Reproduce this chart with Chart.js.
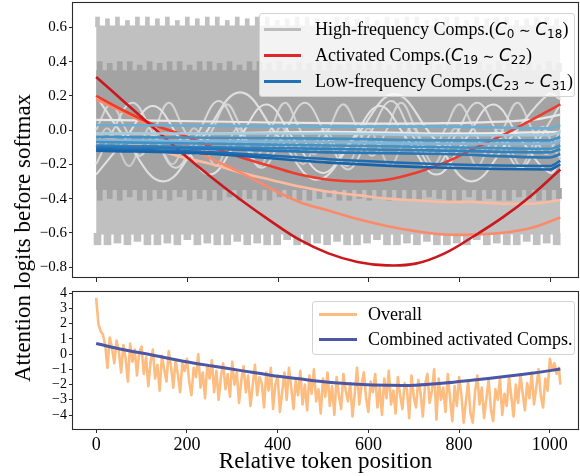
<!DOCTYPE html>
<html>
<head>
<meta charset="utf-8">
<script src="https://cdn.jsdelivr.net/npm/chart.js@4.4.1/dist/chart.umd.min.js"></script>
<style>
    html, body { margin: 0; padding: 0; background: #fff; }
    #figure { position: relative; width: 580px; height: 476px; overflow: hidden; font-family: 'Liberation Serif', 'Times New Roman', serif; color: #000; }
    #topBox { position: absolute; left: 0; top: 0; width: 580px; height: 292px; }
    #bottomBox { position: absolute; left: 0; top: 285px; width: 580px; height: 191px; }
    .y-title { position: absolute; left: 23px; top: 238px; transform: translate(-50%, -50%) rotate(-90deg); font-size: 23px; white-space: nowrap; }
    .legend { position: absolute; box-sizing: border-box; background: rgba(255, 255, 255, 0.8); border: 1px solid #d3d3d3; border-radius: 3px; }
    .legend .row { position: absolute; left: 0; right: 0; height: 24px; }
    .legend .swatch { position: absolute; top: 10.5px; height: 3px; }
    .legend .label { position: absolute; top: 0; line-height: 24px; white-space: nowrap; font-size: 18px; }
    .legend .math { font-family: 'DejaVu Sans', sans-serif; font-style: italic; font-size: 17px; }
    .legend .sub { font-family: 'DejaVu Sans', sans-serif; font-size: 12px; vertical-align: -3px; }
    .legend .sim { font-family: 'DejaVu Sans', sans-serif; font-size: 14px; }
</style>
</head>
<body>
<div id="figure">
    <div id="topBox"><canvas id="componentsChart"></canvas></div>
    <div id="bottomBox"><canvas id="overallChart"></canvas></div>
    <div class="y-title">Attention logits before softmax</div>
    <div class="legend" id="componentsLegend" style="left:259px;top:13px;width:316px;height:84px"></div>
    <div class="legend" id="overallLegend" style="left:312px;top:301px;width:263px;height:54px"></div>
</div>
<script>
// axes
const xTickValues = [0, 200, 400, 600, 800, 1000];
const xTickLabels = ['0', '200', '400', '600', '800', '1000'];
const topYTickValues = [-0.8, -0.6, -0.4, -0.2, 0, 0.2, 0.4, 0.6];
const topYTickLabels = ['\u22120.8', '\u22120.6', '\u22120.4', '\u22120.2', '0.0', '0.2', '0.4', '0.6'];
const bottomYTickValues = [-4, -3, -2, -1, 0, 1, 2, 3, 4];
const bottomYTickLabels = ['\u22124', '\u22123', '\u22122', '\u22121', '0', '1', '2', '3', '4'];

// high-frequency comps: fast oscillations seen as two solid bands with ragged edges
const bandEnds = [0, 1023];
const lightCore = [0.61, -0.61];
const darkCore = [0.35, -0.35];
const toothStep = 22;
const lightTopTeeth = [
    0.66, 0.65, 0.66, 0.64, 0.66, 0.66, 0.65, 0.66, 0.64, 0.66,
    0.65, 0.66, 0.66, 0.64, 0.66, 0.65, 0.66, 0.66, 0.64, 0.65,
    0.66, 0.66, 0.65, 0.64, 0.66, 0.66, 0.65, 0.66, 0.64, 0.66,
    0.65, 0.66, 0.66, 0.64, 0.65, 0.66, 0.66, 0.64, 0.66, 0.65,
    0.66, 0.66, 0.64, 0.65, 0.66, 0.66, 0.65
];
const lightBottomTeeth = [
    -0.67, -0.67, -0.66, -0.67, -0.65, -0.67, -0.67, -0.66, -0.67, -0.64,
    -0.67, -0.66, -0.67, -0.67, -0.65, -0.67, -0.66, -0.67, -0.67, -0.64,
    -0.67, -0.67, -0.66, -0.67, -0.65, -0.67, -0.67, -0.66, -0.64, -0.67,
    -0.67, -0.66, -0.67, -0.65, -0.67, -0.67, -0.66, -0.67, -0.64, -0.67,
    -0.66, -0.67, -0.67, -0.65, -0.67, -0.66, -0.67
];
const darkTopTeeth = [
    0.40, 0.39, 0.40, 0.40, 0.38, 0.40, 0.39, 0.40, 0.40, 0.38,
    0.40, 0.40, 0.39, 0.40, 0.38, 0.40, 0.40, 0.39, 0.40, 0.38,
    0.40, 0.39, 0.40, 0.40, 0.38, 0.40, 0.39, 0.40, 0.40, 0.38,
    0.40, 0.40, 0.39, 0.40, 0.38, 0.40, 0.39, 0.40, 0.40, 0.38,
    0.40, 0.40, 0.39, 0.40, 0.38, 0.40, 0.39
];
const darkBottomTeeth = [
    -0.41, -0.40, -0.41, -0.39, -0.41, -0.41, -0.40, -0.41, -0.39, -0.41,
    -0.40, -0.41, -0.41, -0.39, -0.41, -0.40, -0.41, -0.41, -0.39, -0.40,
    -0.41, -0.41, -0.40, -0.39, -0.41, -0.41, -0.40, -0.41, -0.39, -0.41,
    -0.40, -0.41, -0.41, -0.39, -0.40, -0.41, -0.41, -0.39, -0.41, -0.40,
    -0.41, -0.41, -0.39, -0.40, -0.41, -0.41, -0.40
];

// slower high-frequency comps (pale curves)
const paleAX = [0, 62, 147, 232, 317, 402, 487, 572, 657, 742, 827, 912, 997, 1023];
const paleAY = [0.20, -0.04, -0.30, -0.05, 0.22, -0.04, -0.29, -0.04, 0.21, -0.04, -0.30, -0.05, 0.21, 0.18];
const paleBX = [0, 32, 80, 127, 175, 222, 270, 317, 365, 412, 460, 507, 555, 602, 650, 697, 745, 792, 840, 887, 935, 982, 1023];
const paleBY = [-0.20, -0.03, 0.16, -0.03, -0.22, -0.03, 0.17, -0.03, -0.22, -0.03, 0.16, -0.03, -0.23, -0.03, 0.17, -0.03, -0.22, -0.03, 0.16, -0.03, -0.22, -0.03, 0.15];
const paleCX = [0, 32, 64, 96, 128, 160, 192, 224, 256, 288, 320, 352, 384, 416, 448, 480, 512, 544, 576, 608, 640, 672, 704, 736, 768, 800, 832, 864, 896, 928, 960, 992, 1023];
const paleCY = [0.00, 0.15, 0.01, -0.15, 0.00, 0.16, 0.01, -0.14, 0.00, 0.15, 0.01, -0.15, 0.00, 0.16, 0.01, -0.14, 0.00, 0.15, 0.01, -0.15, 0.00, 0.16, 0.01, -0.14, 0.00, 0.15, 0.01, -0.15, 0.00, 0.16, 0.01, -0.14, 0.00];
const paleDX = [0, 62, 125, 187, 250, 312, 375, 437, 500, 562, 625, 687, 750, 812, 875, 937, 1000, 1023];
const paleDY = [-0.26, -0.06, 0.14, -0.06, -0.26, -0.06, 0.15, -0.06, -0.25, -0.06, 0.14, -0.06, -0.26, -0.06, 0.15, -0.06, -0.25, -0.18];
const paleEX = [0, 256, 512, 768, 960, 1023];
const paleEY = [0.06, 0.05, 0.04, 0.04, 0.06, 0.09];
const paleFX = [0, 256, 512, 768, 1023];
const paleFY = [-0.02, -0.02, -0.01, -0.02, -0.01];
const paleGX = [0, 24, 48, 72, 96, 120, 144, 168, 192, 216, 240, 264, 288, 312, 336, 360, 384, 408, 432, 456, 480, 504, 528, 552, 576, 600, 624, 648, 672, 696, 720, 744, 768, 792, 816, 840, 864, 888, 912, 936, 960, 984, 1008, 1023];
const paleGY = [
    -0.10, 0.01, -0.10, -0.21, -0.10, 0.02, -0.10, -0.20, -0.10, 0.01, -0.10, -0.21,
    -0.10, 0.01, -0.10, -0.21, -0.10, 0.02, -0.10, -0.20, -0.10, 0.01, -0.10, -0.21,
    -0.10, 0.01, -0.10, -0.21, -0.10, 0.02, -0.10, -0.20, -0.10, 0.01, -0.10, -0.21,
    -0.10, 0.01, -0.10, -0.21, -0.10, 0.02, -0.10, -0.17
];

// activated comps C19..C22
const activatedX = [0, 64, 128, 192, 256, 320, 384, 448, 512, 576, 640, 704, 768, 832, 896, 960, 1023];
const activated19 = [0.31, 0.16, 0.01, -0.14, -0.28, -0.41, -0.53, -0.64, -0.72, -0.77, -0.79, -0.78, -0.72, -0.62, -0.51, -0.38, -0.23];
const activated20 = [0.20, 0.11, 0.03, -0.03, -0.10, -0.16, -0.21, -0.26, -0.29, -0.30, -0.29, -0.25, -0.19, -0.11, -0.03, 0.06, 0.15];
const activated21 = [0.18, 0.10, 0.01, -0.08, -0.17, -0.25, -0.34, -0.42, -0.47, -0.52, -0.56, -0.59, -0.61, -0.61, -0.60, -0.57, -0.51];
const activated22 = [-0.03, -0.07, -0.11, -0.16, -0.20, -0.25, -0.29, -0.33, -0.36, -0.38, -0.40, -0.41, -0.42, -0.42, -0.43, -0.43, -0.41];

// low-frequency comps C23..C31
const lowX = [0, 256, 512, 768, 1000, 1023];
const lowComps = [
    [0.03, 0.025, 0.02, 0.02, 0.01, 0.03],
    [-0.02, -0.02, -0.02, -0.03, -0.03, -0.01],
    [-0.04, -0.045, -0.05, -0.06, -0.06, -0.04],
    [-0.06, -0.065, -0.07, -0.08, -0.08, -0.06],
    [-0.07, -0.08, -0.09, -0.10, -0.11, -0.09],
    [-0.09, -0.10, -0.11, -0.12, -0.13, -0.11],
    [-0.10, -0.11, -0.13, -0.14, -0.16, -0.14],
    [-0.11, -0.13, -0.17, -0.20, -0.21, -0.18],
    [-0.12, -0.14, -0.19, -0.22, -0.23, -0.20]
];

// bottom panel: overall logits every 5 tokens (last point at 1023) and combined activated comps
const overallStep = 5;
const overall = [
    3.7, 2.0, 1.5, 1.3, 0.6, -0.9, 1.1, 0.4, -0.6, 0.9, 0.2, -1.2, 0.6, -0.3, -1.8, 0.7, -0.5, 0.3, -1.4, 0.1,
    0.5, -1.3, -0.2, -2.1, -0.5, 0.3, -1.6, -0.7, -2.4, -0.1, -1.0, -1.8, 0.2, -0.8, -2.2, -0.4, -1.3, -2.5, -0.6, -1.1,
    -0.3, -1.8, -2.7, -0.9, -1.5, 0.0, -2.2, -1.2, -2.9, -0.7, -1.6, -0.4, -2.5, -1.1, -3.0, -1.5, -0.6, -2.3, -1.3, -2.8,
    -0.5, -2.0, -1.2, -3.2, -1.7, -0.8, -2.5, -1.4, -3.4, -2.1, -0.7, -2.7, -1.5, -1.9, -3.5, -1.2, -2.4, -0.9, -3.6, -2.0,
    -1.4, -3.8, -2.5, -1.2, -3.0, -0.9, -2.2, -3.6, -1.7, -2.7, -1.1, -3.3, -2.0, -3.7, -1.4, -2.6, -1.0, -3.1, -2.3, -3.9,
    -1.6, -2.8, -1.2, -3.4, -2.1, -4.0, -1.5, -2.7, -3.6, -1.3, -2.4, -3.1, -1.9, -4.1, -2.6, -0.9, -3.3, -2.0, -1.2, -2.9,
    -3.8, -1.8, -2.5, -1.3, -3.5, -2.2, -4.0, -1.6, -2.9, -1.1, -3.3, -2.4, -3.9, -1.5, -2.7, -3.6, -1.9, -2.3, -4.2, -1.4,
    -2.8, -3.5, -1.7, -2.6, -4.1, -2.0, -1.3, -3.2, -2.4, -1.0, -4.3, -1.6, -3.0, -2.2, -3.8, -1.3, -2.9, -4.4, -2.1, -3.4,
    -1.5, -2.7, -4.5, -3.1, -1.8, -3.9, -4.5, -2.5, -1.4, -3.3, -2.2, -4.2, -2.9, -1.7, -3.6, -4.4, -2.3, -3.0, -1.6, -4.0,
    -2.6, -3.4, -1.5, -2.8, -4.1, -2.0, -3.2, -1.3, -2.6, -3.7, -1.9, -2.9, -1.2, -3.3, -2.2, -1.0, -2.7, -3.5, -1.6, -2.4,
    -0.3, -1.0, -0.6, -1.3, -0.9, -2.0
];
const combinedX = [0, 64, 128, 192, 256, 320, 384, 448, 512, 576, 640, 704, 768, 832, 896, 960, 1023];
const combined = [0.70, 0.28, -0.08, -0.46, -0.78, -1.08, -1.38, -1.62, -1.84, -1.97, -2.04, -2.04, -1.90, -1.70, -1.49, -1.25, -0.98];

// legends
const componentLegendNames = ['High-frequency Comps.', 'Activated Comps.', 'Low-frequency Comps.'];
const componentLegendRanges = [['0', '18'], ['19', '22'], ['23', '31']];
const componentLegendColors = ['#bdbdbd', '#e0282a', '#2171b5'];
const overallLegendNames = ['Overall', 'Combined activated Comps.'];
const overallLegendColors = ['#fdbc80', '#4c56a6'];

const activatedColors = ['#cb181d', '#ef3b2c', '#fc8a6a', '#fcbba1'];
const lowColors = ['#6baed6', '#9ecae1', '#4292c6', '#7db8dc', '#4292c6', '#3182bd', '#2878b8', '#1f6db1', '#1764ab'];
const paleColors = ['#cbcbcb', '#d2d2d2', '#d8d8d8', '#dedede', '#e2e2e2', '#e8e8e8', '#ececec'];

Chart.defaults.font.family = "'Liberation Serif', 'Times New Roman', serif";
Chart.defaults.color = '#000';

// full box around the plot area; the upper panel also gets its x tick marks (labels live below)
const framePlugin = {
    id: 'frame',
    afterDraw(chart) {
        const { ctx, chartArea: a } = chart;
        ctx.save();
        ctx.strokeStyle = '#2b2b2b';
        ctx.lineWidth = 1.1;
        ctx.strokeRect(Math.round(a.left) - 0.5, Math.round(a.top) - 0.5, Math.round(a.right - a.left) + 1, Math.round(a.bottom - a.top) + 1);
        if (chart.canvas.id === 'componentsChart') {
            const xScale = chart.scales.x;
            ctx.fillStyle = '#2b2b2b';
            xTickValues.forEach((value) => {
                ctx.fillRect(Math.round(xScale.getPixelForValue(value)), Math.round(a.bottom), 1, 5);
            });
        }
        ctx.restore();
    }
};

class AttentionLogitsFigure {
    constructor() {
        this.charts = { components: null, overall: null };
        this.init();
    }

    init() {
        this.renderComponents();
        this.renderOverall();
        this.renderLegends();
    }

    points(xs, ys) {
        return xs.map((x, i) => ({ x, y: ys[i] }));
    }

    curve(xs, ys, color, width, extra) {
        return Object.assign({
            type: 'line',
            data: this.points(xs, ys),
            borderColor: color,
            borderWidth: width,
            pointRadius: 0,
            tension: 0.4,
            fill: false,
            borderJoinStyle: 'round'
        }, extra || {});
    }

    teeth(values, offset, base, color, thickness) {
        return {
            type: 'bar',
            data: values.map((v, i) => ({ x: offset + i * toothStep, y: v })),
            base,
            backgroundColor: color,
            barThickness: thickness,
            grouped: false,
            borderWidth: 0
        };
    }

    band(values, color) {
        return [
            { type: 'line', data: this.points(bandEnds, [values[0], values[0]]), borderWidth: 0, pointRadius: 0, fill: '+1', backgroundColor: color },
            { type: 'line', data: this.points(bandEnds, [values[1], values[1]]), borderWidth: 0, pointRadius: 0, fill: false }
        ];
    }

    axis(min, max, tickValues, tickLabels, extra) {
        return Object.assign({
            type: 'linear',
            min,
            max,
            offset: false,
            afterBuildTicks: (scale) => { scale.ticks = tickValues.map((value) => ({ value })); },
            ticks: { autoSkip: false, callback: (v, i) => tickLabels[i] },
            grid: { display: true, offset: false, drawOnChartArea: false, drawTicks: true, tickLength: 4, color: '#2b2b2b', lineWidth: 1 },
            border: { display: false }
        }, extra);
    }

    fitAxis(scale, size) {
        if (scale.isHorizontal()) scale.height = size; else scale.width = size;
        scale.paddingTop = 0; scale.paddingBottom = 0; scale.paddingLeft = 0; scale.paddingRight = 0;
    }

    // datasets are listed bottom to top; chart.js draws the lowest order last
    stack(datasets) {
        return datasets.map((d, i) => Object.assign(d, { order: datasets.length - i }));
    }

    renderComponents() {
        const light = '#c0c0c0';
        const dark = '#a3a3a3';
        const datasets = [
            ...this.band(lightCore, light),
            this.teeth(lightTopTeeth, 3, 0.60, light, 4),
            this.teeth(lightBottomTeeth, 3, -0.60, light, 7),
            ...this.band(darkCore, dark),
            this.teeth(darkTopTeeth, 8, 0.34, dark, 5),
            this.teeth(darkBottomTeeth, 8, -0.34, dark, 5),
            this.curve(paleGX, paleGY, paleColors[0], 2),
            this.curve(paleCX, paleCY, paleColors[1], 2),
            this.curve(paleBX, paleBY, paleColors[2], 2),
            this.curve(paleAX, paleAY, paleColors[3], 2.2),
            this.curve(paleDX, paleDY, paleColors[4], 2),
            this.curve(paleEX, paleEY, paleColors[5], 2.2),
            this.curve(paleFX, paleFY, paleColors[6], 2.2),
            this.curve(activatedX, activated22, activatedColors[3], 2.6),
            this.curve(activatedX, activated21, activatedColors[2], 2.6),
            this.curve(activatedX, activated20, activatedColors[1], 2.6),
            this.curve(activatedX, activated19, activatedColors[0], 2.6),
            ...lowComps.map((ys, i) => this.curve(lowX, ys, lowColors[i], 2.6, { cubicInterpolationMode: 'monotone' }))
        ];

        const ctx = document.getElementById('componentsChart').getContext('2d');
        this.charts.components = new Chart(ctx, {
            type: 'line',
            data: { datasets: this.stack(datasets) },
            options: {
                animation: false,
                responsive: true,
                maintainAspectRatio: false,
                events: [],
                layout: { padding: { top: 3, right: 2, left: 0, bottom: 7 } },
                plugins: { legend: { display: false }, tooltip: { enabled: false } },
                scales: {
                    // shared x axis: labels live on the lower panel
                    x: this.axis(-51, 1062, xTickValues, xTickLabels, {
                        ticks: { display: false },
                        grid: { display: false },
                        afterFit: (s) => this.fitAxis(s, 8)
                    }),
                    y: this.axis(-0.858, 0.742, topYTickValues, topYTickLabels, {
                        ticks: { autoSkip: false, callback: (v, i) => topYTickLabels[i], font: { size: 15 }, padding: 2 },
                        afterFit: (s) => this.fitAxis(s, 73)
                    })
                }
            },
            plugins: [framePlugin]
        });
    }

    renderOverall() {
        const overallX = overall.map((_, i) => Math.min(i * overallStep, 1023));
        const datasets = [
            this.curve(overallX, overall, overallLegendColors[0], 2.6, { tension: 0 }),
            this.curve(combinedX, combined, overallLegendColors[1], 3)
        ];

        const ctx = document.getElementById('overallChart').getContext('2d');
        this.charts.overall = new Chart(ctx, {
            type: 'line',
            data: { datasets: this.stack(datasets) },
            options: {
                animation: false,
                responsive: true,
                maintainAspectRatio: false,
                events: [],
                layout: { padding: { top: 7, right: 2, left: 0, bottom: 0 } },
                plugins: { legend: { display: false }, tooltip: { enabled: false } },
                scales: {
                    x: this.axis(-51, 1062, xTickValues, xTickLabels, {
                        ticks: { autoSkip: false, callback: (v, i) => xTickLabels[i], font: { size: 18 }, padding: 1, maxRotation: 0 },
                        title: { display: true, text: 'Relative token position', font: { size: 23 }, padding: { top: 0, bottom: 0 } },
                        afterFit: (s) => this.fitAxis(s, 47)
                    }),
                    y: this.axis(-4.92, 4.09, bottomYTickValues, bottomYTickLabels, {
                        ticks: { autoSkip: false, callback: (v, i) => bottomYTickLabels[i], font: { size: 14 }, padding: 2 },
                        afterFit: (s) => this.fitAxis(s, 73)
                    })
                }
            },
            plugins: [framePlugin]
        });
    }

    legendRow(center, color, lineLeft, lineWidth, textLeft, html) {
        return `<div class="row" style="top:${center - 12}px">
            <span class="swatch" style="left:${lineLeft}px;width:${lineWidth}px;background:${color}"></span>
            <span class="label" style="left:${textLeft}px">${html}</span>
        </div>`;
    }

    renderLegends() {
        const rowsTop = [15, 41, 67];
        document.getElementById('componentsLegend').innerHTML = componentLegendNames.map((name, i) => {
            const [a, b] = componentLegendRanges[i];
            const math = `(<span class="math">C</span><span class="sub">${a}</span> <span class="sim">\u223C</span> <span class="math">C</span><span class="sub">${b}</span>)`;
            return this.legendRow(rowsTop[i], componentLegendColors[i], 4, 37, 55, name + math);
        }).join('');

        const rowsBottom = [12, 37];
        document.getElementById('overallLegend').innerHTML = overallLegendNames.map((name, i) =>
            this.legendRow(rowsBottom[i], overallLegendColors[i], 6, 38, 55, name)
        ).join('');
    }
}

window.attentionLogitsFigure = new AttentionLogitsFigure();
</script>
</body>
</html>
